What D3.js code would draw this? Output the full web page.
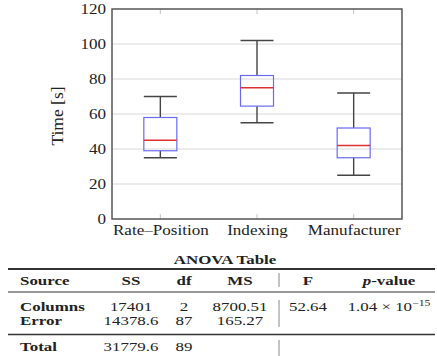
<!DOCTYPE html>
<html>
<head>
<meta charset="utf-8">
<script src="https://cdn.jsdelivr.net/npm/d3@7"></script>
<style>
  html, body { margin: 0; padding: 0; background: #fff; }
  svg { display: block; }
  svg text { font-family: "Liberation Serif", "Times New Roman", serif; fill: #222; }
</style>
</head>
<body>
<svg id="chart" width="437" height="356"></svg>
<script>
// Box plot statistics per method (seconds)
const categories = ["Rate\u2013Position", "Indexing", "Manufacturer"];
const whiskerLow = [35, 55, 25];
const q1 = [39, 64.5, 35];
const median = [45, 75, 42];
const q3 = [58, 82, 52];
const whiskerHigh = [70, 102, 72];
const yTicks = [0, 20, 40, 60, 80, 100, 120];

// ANOVA table
const anovaHeaders = ["Source", "SS", "df", "MS", "F", "p-value"];
const anovaSource = ["Columns", "Error", "Total"];
const anovaSS = ["17401", "14378.6", "31779.6"];
const anovaDf = ["2", "87", "89"];
const anovaMS = ["8700.51", "165.27", ""];
const anovaF = ["52.64", "", ""];
const anovaP = [["1.04 \u00d7 10", "\u221215"], null, null];

const FONT = '"Liberation Serif", "Times New Roman", serif';
const WIDE = 1.22;       // horizontal widening of the axis lettering
const TABLE_WIDE = 1.3;  // horizontal widening of the table lettering

const svg = d3.select("#chart");
const plot = { left: 112, right: 402, top: 9, bottom: 219 };

const x = d3.scalePoint().domain(categories).range([plot.left, plot.right]).padding(0.5);
const y = d3.scaleLinear().domain([0, 120]).range([plot.bottom, plot.top]);

// text placed at (px, py), widened horizontally around its anchor
function label(parent, px, py, anchor, size, weight) {
  return parent.append("text")
    .attr("transform", `translate(${px},${py}) scale(${TABLE_WIDE},1)`)
    .attr("text-anchor", anchor)
    .style("font-family", FONT)
    .style("font-size", size + "px")
    .style("font-weight", weight || "normal");
}

// horizontal grid
svg.append("g")
  .selectAll("line").data(yTicks.slice(1, -1)).join("line")
  .attr("x1", plot.left).attr("x2", plot.right)
  .attr("y1", d => y(d)).attr("y2", d => y(d))
  .attr("stroke", "#d8d8d8").attr("stroke-width", 1);

// category ticks, inward at top and bottom
const tickG = svg.append("g").attr("stroke", "#c4c4c4").attr("stroke-width", 1);
categories.forEach(c => {
  tickG.append("line").attr("x1", x(c)).attr("x2", x(c)).attr("y1", plot.bottom).attr("y2", plot.bottom - 5);
  tickG.append("line").attr("x1", x(c)).attr("x2", x(c)).attr("y1", plot.top).attr("y2", plot.top + 5);
});

// y axis labels
const yAxis = d3.axisLeft(y).tickValues(yTicks).tickSize(0).tickPadding(0);
const yg = svg.append("g").attr("transform", `translate(${plot.left},0)`).call(yAxis);
yg.select(".domain").remove();
yg.attr("font-family", null).attr("font-size", null);
yg.selectAll("text")
  .attr("x", null).attr("dy", "0.34em")
  .attr("transform", `translate(-6,0) scale(${WIDE},1)`)
  .style("font-family", FONT).style("font-size", "14px").attr("fill", "#333");

// x axis labels
const xAxis = d3.axisBottom(x).tickSize(0).tickPadding(0);
const xg = svg.append("g").attr("transform", `translate(0,${plot.bottom})`).call(xAxis);
xg.select(".domain").remove();
xg.attr("font-family", null).attr("font-size", null);
xg.selectAll("text")
  .attr("y", null).attr("dy", null)
  .attr("transform", `translate(0,16) scale(${WIDE},1)`)
  .style("font-family", FONT).style("font-size", "14px").attr("fill", "#333");

// boxes
const boxW = 33;
const boxes = svg.append("g");
categories.forEach((c, i) => {
  const cx = x(c);
  const g = boxes.append("g");
  g.append("line").attr("x1", cx).attr("x2", cx).attr("y1", y(whiskerHigh[i])).attr("y2", y(q3[i]))
    .attr("stroke", "#444").attr("stroke-width", 1.4);
  g.append("line").attr("x1", cx).attr("x2", cx).attr("y1", y(q1[i])).attr("y2", y(whiskerLow[i]))
    .attr("stroke", "#444").attr("stroke-width", 1.4);
  [whiskerHigh[i], whiskerLow[i]].forEach(v => {
    g.append("line").attr("x1", cx - boxW / 2).attr("x2", cx + boxW / 2).attr("y1", y(v)).attr("y2", y(v))
      .attr("stroke", "#444").attr("stroke-width", 1.4);
  });
  g.append("rect").attr("x", cx - boxW / 2).attr("y", y(q3[i]))
    .attr("width", boxW).attr("height", y(q1[i]) - y(q3[i]))
    .attr("fill", "none").attr("stroke", "#6a6af0").attr("stroke-width", 1.2);
  g.append("line").attr("x1", cx - boxW / 2).attr("x2", cx + boxW / 2).attr("y1", y(median[i])).attr("y2", y(median[i]))
    .attr("stroke", "#e03030").attr("stroke-width", 1.3);
});

// frame
svg.append("rect").attr("x", plot.left).attr("y", plot.top)
  .attr("width", plot.right - plot.left).attr("height", plot.bottom - plot.top)
  .attr("fill", "none").attr("stroke", "#555").attr("stroke-width", 1.5);

// y label
svg.append("text").attr("transform", `translate(63,${(plot.top + plot.bottom) / 2 + 2}) rotate(-90)`)
  .attr("text-anchor", "middle").style("font-family", FONT).style("font-size", "17.5px")
  .attr("fill", "#333").text("Time [s]");

// ANOVA table
const tbl = svg.append("g");
label(tbl, 225, 264, "middle", 13, "bold").text("ANOVA Table");

const rule = (yy, w) => tbl.append("line").attr("x1", 8).attr("x2", 435).attr("y1", yy).attr("y2", yy)
  .attr("stroke", "#333").attr("stroke-width", w);
rule(269, 2);
rule(292, 1.2);
rule(334.5, 1.5);

const colX = [20, 131, 184, 240, 308, 389];
const headerY = 284.5;
const rowY = [311, 325, 351];
const fs = 13;

anovaHeaders.forEach((h, j) => {
  const t = label(tbl, colX[j], headerY, j === 0 ? "start" : "middle", fs, "bold");
  if (h === "p-value") {
    t.append("tspan").style("font-style", "italic").text("p");
    t.append("tspan").text("-value");
  } else {
    t.text(h);
  }
});

anovaSource.forEach((s, i) => {
  label(tbl, colX[0], rowY[i], "start", fs, "bold").text(s);
  [anovaSS[i], anovaDf[i], anovaMS[i], anovaF[i]].forEach((v, j) => {
    if (v) label(tbl, colX[j + 1], rowY[i], "middle", fs).attr("fill", "#333").text(v);
  });
  if (anovaP[i]) {
    const t = label(tbl, colX[5], rowY[i], "middle", fs).attr("fill", "#333");
    t.append("tspan").text(anovaP[i][0]);
    t.append("tspan").attr("dy", -5).style("font-size", "9px").text(anovaP[i][1]);
  }
});

// vertical separator between MS and F
[[273, 287], [300, 327], [340, 356]].forEach(([a, b]) => {
  tbl.append("line").attr("x1", 279).attr("x2", 279).attr("y1", a).attr("y2", b)
    .attr("stroke", "#888").attr("stroke-width", 1);
});
</script>
</body>
</html>
